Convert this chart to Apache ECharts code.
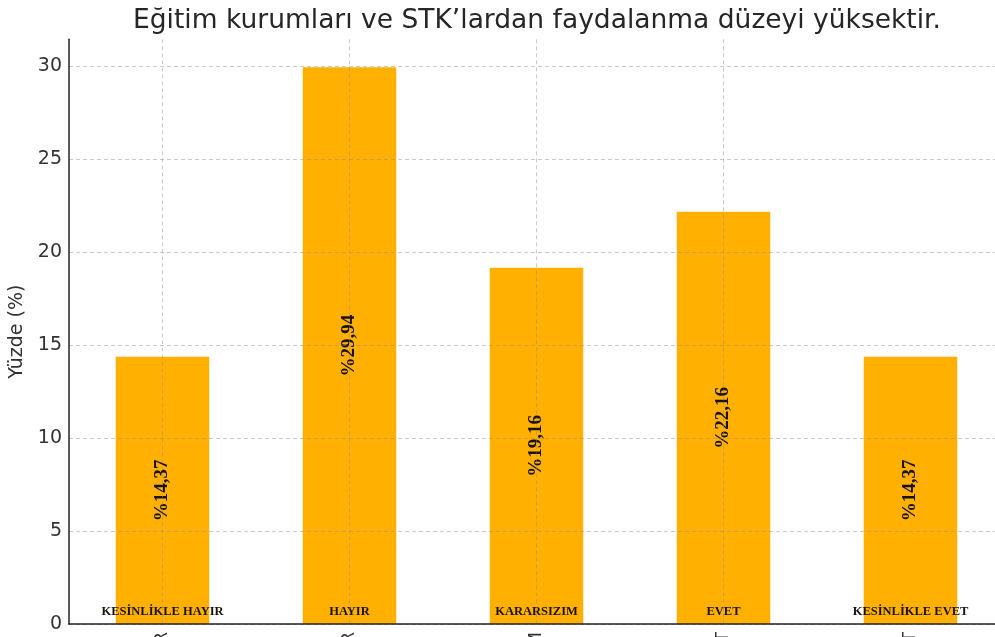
<!DOCTYPE html>
<html>
	<head>
		<meta charset="utf-8">
		<title></title>
		<script src="https://cdn.jsdelivr.net/npm/echarts@6/dist/echarts.min.js"></script>
	</head>
	<body style="margin:0;background:#fff;">
		<div id="main" style="width:995px;height:637px;"></div>
		<script type="text/javascript">
			// veriler
			var categories = ['KESİNLİKLE HAYIR', 'HAYIR', 'KARARSIZIM', 'EVET', 'KESİNLİKLE EVET'];
			var percents = [14.37, 29.94, 19.16, 22.16, 14.37];
			var yTicks = [0, 5, 10, 15, 20, 25, 30];

			var myChart = echarts.init(document.getElementById('main'));

			var gridLine = {
				show: true,
				showMaxLine: false,
				lineStyle: { color: 'rgba(140,140,140,0.45)', width: 1, type: [4, 3] }
			};

			var option = {
				backgroundColor: '#fff',
				animation: false,
				title: {
					text: 'Eğitim kurumları ve STK’lardan faydalanma düzeyi yüksektir.',
					left: 532,
					top: 3,
					textAlign: 'center',
					textStyle: {
						fontFamily: 'DejaVu Sans',
						fontSize: 26.5,
						fontWeight: 'normal',
						color: '#262626'
					}
				},
				grid: { left: 69, right: -9, top: 39.3, bottom: 13, containLabel: false, outerBoundsMode: 'none' },
				xAxis: {
					type: 'category',
					data: categories,
					z: 5,
					axisLine: { lineStyle: { color: '#222', width: 1.5 } },
					axisTick: { show: false },
					splitLine: Object.assign({ alignWithLabel: true }, gridLine),
					axisLabel: {
						rotate: 90,
						margin: 8,
						fontFamily: 'DejaVu Sans',
						fontSize: 17,
						color: '#333'
					}
				},
				yAxis: {
					type: 'value',
					min: 0,
					max: 31.437,
					interval: 5,
					z: 5,
					name: 'Yüzde (%)',
					nameLocation: 'middle',
					nameGap: 38,
					nameTextStyle: { fontFamily: 'DejaVu Sans', fontSize: 19, color: '#333' },
					axisLine: { show: true, lineStyle: { color: '#222', width: 1.5 } },
					axisTick: { show: false },
					splitLine: gridLine,
					axisLabel: {
						margin: 7,
						fontFamily: 'DejaVu Sans',
						fontSize: 19,
						color: '#333',
						showMaxLabel: false,
						formatter: function (v) { return yTicks.indexOf(v) >= 0 ? String(v) : ''; }
					}
				},
				series: [
					{
						type: 'bar',
						data: percents,
						barWidth: '50%',
						itemStyle: { color: '#FFB000' },
						label: {
							show: true,
							position: 'inside',
							rotate: 90,
							fontFamily: 'Liberation Serif',
							fontWeight: 'bold',
							fontSize: 19,
							color: '#1a1208',
							formatter: function (p) { return '%' + p.value.toFixed(2).replace('.', ','); }
						}
					},
					{
						// kategori adları çubukların dibinde
						type: 'bar',
						data: percents,
						barWidth: '50%',
						barGap: '-100%',
						silent: true,
						itemStyle: { color: 'rgba(0,0,0,0)' },
						label: {
							show: true,
							position: 'insideBottom',
							distance: 6,
							fontFamily: 'Liberation Serif',
							fontWeight: 'bold',
							fontSize: 12.5,
							color: '#1a1208',
							formatter: function (p) { return categories[p.dataIndex]; }
						}
					}
				]
			};

			myChart.setOption(option);
		</script>
	</body>
</html>
